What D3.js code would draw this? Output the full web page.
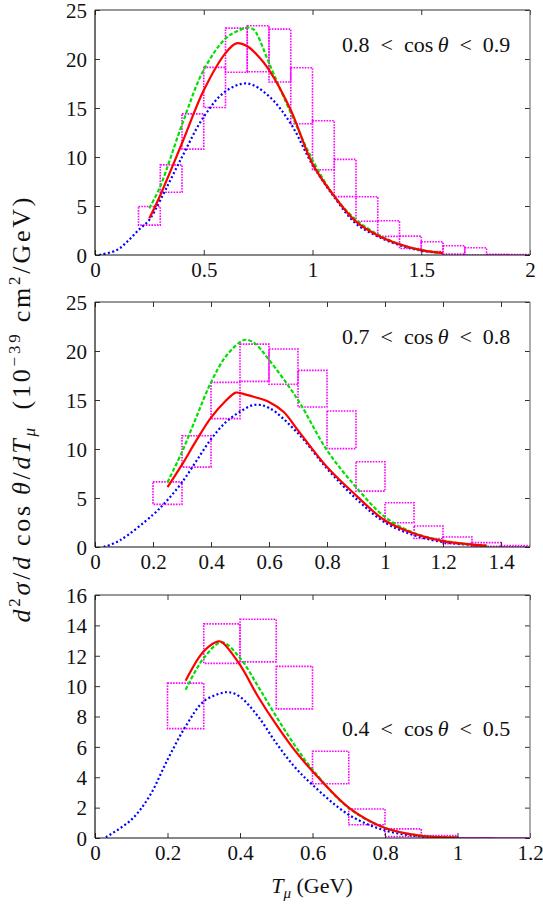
<!DOCTYPE html>
<html>
<head>
<meta charset="utf-8">
<script src="https://cdn.jsdelivr.net/npm/d3@7"></script>
<style>
  html, body { margin: 0; padding: 0; background: #fff; }
  svg { display: block; }
  text { font-family: "Liberation Serif", "Times New Roman", "DejaVu Serif", serif; fill: #111; }
</style>
</head>
<body>
<svg id="chart" width="543" height="907"></svg>
<script>
// ---------------- DATA ----------------
// Panel 1: 0.8 < cos(theta) < 0.9
const p1BinLo  = [0.2,0.3,0.4,0.5,0.6,0.7,0.8,0.9,1.0,1.1,1.2,1.3,1.4,1.5,1.6,1.7,1.8,1.9];
const p1BinHi  = [0.3,0.4,0.5,0.6,0.7,0.8,0.9,1.0,1.1,1.2,1.3,1.4,1.5,1.6,1.7,1.8,1.9,2.0];
const p1Data   = [4.0,7.8,12.6,17.1,20.9,21.05,20.35,16.25,11.2,7.86,4.7,2.7,1.3,0.85,0.52,0.37,0.04,0.02];
const p1Err    = [0.95,1.4,1.8,2.05,2.25,2.35,2.7,2.85,2.5,1.9,1.25,0.8,0.63,0.5,0.43,0.37,0.04,0.02];
const p1RedT   = [0.25,0.3,0.4,0.5,0.6,0.65,0.7,0.75,0.8,0.9,1.0,1.1,1.2,1.3,1.4,1.5,1.6];
const p1RedV   = [3.74,6.1,11.4,16.8,20.6,21.6,21.3,20.3,18.9,14.8,9.3,6.0,3.4,2.0,1.1,0.5,0.2];
const p1GreenT = [0.25,0.3,0.4,0.5,0.6,0.65,0.7,0.73,0.75,0.8,0.9,1.0,1.1,1.2,1.3,1.4,1.5,1.6];
const p1GreenV = [4.76,7.0,13.3,18.9,22.1,22.8,23.2,23.0,22.3,19.6,14.5,9.7,6.0,3.6,2.1,1.1,0.5,0.2];
const p1BlueT  = [0.02,0.1,0.15,0.2,0.25,0.3,0.4,0.5,0.6,0.7,0.8,0.9,1.0,1.1,1.2,1.3,1.4,1.5,1.6];
const p1BlueV  = [0.0,0.5,1.4,2.55,3.6,5.6,10.0,14.1,16.7,17.5,16.2,13.4,9.2,5.9,3.2,1.9,1.0,0.45,0.2];

// Panel 2: 0.7 < cos(theta) < 0.8
const p2BinLo  = [0.2,0.3,0.4,0.5,0.6,0.7,0.8,0.9,1.0,1.1,1.2,1.3,1.4];
const p2BinHi  = [0.3,0.4,0.5,0.6,0.7,0.8,0.9,1.0,1.1,1.2,1.3,1.4,1.5];
const p2Data   = [5.5,9.75,14.95,18.8,18.4,16.15,11.96,7.2,3.5,1.5,0.68,0.26,0.08];
const p2Err    = [1.15,1.6,1.85,1.9,1.8,1.87,1.92,1.5,1.02,0.64,0.34,0.19,0.08];
const p2RedT   = [0.25,0.3,0.35,0.4,0.45,0.485,0.5,0.55,0.6,0.65,0.7,0.8,0.9,1.0,1.1,1.2,1.3,1.35];
const p2RedV   = [6.1,8.4,10.9,13.2,14.9,15.75,15.7,15.3,14.8,13.8,11.9,8.16,5.27,2.7,1.37,0.6,0.25,0.15];
const p2GreenT = [0.25,0.3,0.35,0.4,0.45,0.5,0.52,0.55,0.6,0.7,0.8,0.9,1.0,1.1,1.2,1.3,1.35];
const p2GreenV = [6.6,9.7,13.3,16.8,19.4,20.9,21.15,20.8,19.1,15.0,9.87,6.12,3.06,1.43,0.65,0.25,0.15];
const p2BlueT  = [0.03,0.086,0.2,0.25,0.3,0.35,0.4,0.45,0.5,0.55,0.6,0.7,0.8,0.9,1.0,1.1,1.2,1.3,1.35];
const p2BlueV  = [0.0,0.68,3.3,4.8,6.6,8.8,11.0,12.7,13.8,14.5,14.2,11.6,8.0,4.94,2.5,1.2,0.5,0.2,0.1];

// Panel 3: 0.4 < cos(theta) < 0.5
const p3BinLo  = [0.2,0.3,0.4,0.5,0.6,0.7,0.8,0.9,1.0,1.1];
const p3BinHi  = [0.3,0.4,0.5,0.6,0.7,0.8,0.9,1.0,1.1,1.2];
const p3Data   = [8.7,12.8,13.0,9.9,4.64,1.39,0.35,0.08,0.01,0.0];
const p3Err    = [1.5,1.3,1.4,1.4,1.07,0.52,0.25,0.08,0.01,0.0];
const p3RedT   = [0.25,0.3,0.34,0.35,0.4,0.45,0.5,0.55,0.6,0.7,0.8,0.9,1.0];
const p3RedV   = [10.35,12.3,12.95,12.9,11.4,9.3,7.46,5.8,4.4,2.0,0.66,0.15,0.03];
const p3GreenT = [0.25,0.3,0.35,0.4,0.45,0.5,0.55,0.6,0.7,0.8,0.9,1.0];
const p3GreenV = [9.76,11.85,12.88,11.85,9.98,8.0,6.14,4.5,1.97,0.66,0.15,0.03];
const p3BlueT  = [0.03,0.1,0.15,0.2,0.25,0.3,0.35,0.37,0.4,0.45,0.5,0.55,0.6,0.7,0.8,0.9,1.0];
const p3BlueV  = [0.05,1.2,2.74,5.15,7.35,9.0,9.55,9.6,9.3,8.0,6.25,4.7,3.5,1.53,0.5,0.1,0.02];

// Axis ticks and labels
const p1XTicks = [0,0.5,1,1.5,2];
const p2XTicks = [0,0.2,0.4,0.6,0.8,1,1.2,1.4];
const p3XTicks = [0,0.2,0.4,0.6,0.8,1,1.2];
const p1YTicks = [0,5,10,15,20,25];
const p2YTicks = [0,5,10,15,20,25];
const p3YTicks = [0,2,4,6,8,10,12,14,16];
const panelLabels = [["0.8", "0.9"], ["0.7", "0.8"], ["0.4", "0.5"]];

// ---------------- DRAW ----------------
const svg = d3.select("#chart");
const L = 95, R = 530;
const SERIF = "'Liberation Serif', 'Times New Roman', 'DejaVu Serif', serif";

const panels = [
  { top: 10,  bottom: 255, xMax: 2.0, yMax: 25, xt: p1XTicks, yt: p1YTicks,
    lo: p1BinLo, hi: p1BinHi, val: p1Data, err: p1Err,
    red: [p1RedT, p1RedV], green: [p1GreenT, p1GreenV], blue: [p1BlueT, p1BlueV],
    lab: panelLabels[0], labY: 52 },
  { top: 302, bottom: 547, xMax: 1.5, yMax: 25, xt: p2XTicks, yt: p2YTicks,
    lo: p2BinLo, hi: p2BinHi, val: p2Data, err: p2Err,
    red: [p2RedT, p2RedV], green: [p2GreenT, p2GreenV], blue: [p2BlueT, p2BlueV],
    lab: panelLabels[1], labY: 344 },
  { top: 595, bottom: 838, xMax: 1.2, yMax: 16, xt: p3XTicks, yt: p3YTicks,
    lo: p3BinLo, hi: p3BinHi, val: p3Data, err: p3Err,
    red: [p3RedT, p3RedV], green: [p3GreenT, p3GreenV], blue: [p3BlueT, p3BlueV],
    lab: panelLabels[2], labY: 736 }
];

const fmt = d => (d === 0 ? "0" : String(d));

panels.forEach((p, i) => {
  const x = d3.scaleLinear().domain([0, p.xMax]).range([L, R]);
  const y = d3.scaleLinear().domain([0, p.yMax]).range([p.bottom, p.top]);
  const g = svg.append("g");

  const clipId = "clip" + i;
  svg.append("clipPath").attr("id", clipId)
    .append("rect").attr("x", L).attr("y", p.top - 2).attr("width", R - L).attr("height", p.bottom - p.top + 2);

  // data boxes
  const boxes = g.append("g").attr("clip-path", `url(#${clipId})`);
  p.lo.forEach((lo, k) => {
    const y0 = y(p.val[k] + p.err[k]);
    const y1 = y(Math.max(0, p.val[k] - p.err[k]));
    boxes.append("rect")
      .attr("x", x(lo)).attr("width", x(p.hi[k]) - x(lo))
      .attr("y", y0).attr("height", Math.max(0.01, y1 - y0))
      .attr("fill", "none").attr("stroke", "#ff00ff")
      .attr("stroke-width", 1.6).attr("stroke-dasharray", "1.6,1.2");
  });

  const line = d3.line().x(d => x(d[0])).y(d => y(d[1])).curve(d3.curveCatmullRom.alpha(0.5));
  const zip = (a, b) => a.map((t, k) => [t, b[k]]);
  const curves = g.append("g").attr("clip-path", `url(#${clipId})`);
  curves.append("path").attr("d", line(zip(p.blue[0], p.blue[1])))
    .attr("fill", "none").attr("stroke", "#0000ff").attr("stroke-width", 2.2)
    .attr("stroke-dasharray", "2,2.4");
  curves.append("path").attr("d", line(zip(p.green[0], p.green[1])))
    .attr("fill", "none").attr("stroke", "#00e000").attr("stroke-width", 2.2)
    .attr("stroke-dasharray", "4,2");
  curves.append("path").attr("d", line(zip(p.red[0], p.red[1])))
    .attr("fill", "none").attr("stroke", "#ff0000").attr("stroke-width", 2.2);

  // axes
  const ax = g.append("g").attr("transform", `translate(0,${p.bottom})`)
    .call(d3.axisBottom(x).tickValues(p.xt).tickFormat(fmt).tickSizeInner(-5).tickSizeOuter(0).tickPadding(7));
  const axT = g.append("g").attr("transform", `translate(0,${p.top})`)
    .call(d3.axisTop(x).tickValues(p.xt).tickFormat("").tickSizeInner(-5).tickSizeOuter(0));
  const ay = g.append("g").attr("transform", `translate(${L},0)`)
    .call(d3.axisLeft(y).tickValues(p.yt).tickFormat(fmt).tickSizeInner(-5).tickSizeOuter(0).tickPadding(8));
  const ayR = g.append("g").attr("transform", `translate(${R},0)`)
    .call(d3.axisRight(y).tickValues(p.yt).tickFormat("").tickSizeInner(-5).tickSizeOuter(0));

  [ax, axT, ay, ayR].forEach(a => {
    a.attr("font-family", SERIF);
    a.select(".domain").remove();
    a.selectAll("line").attr("stroke", "#333").attr("stroke-width", 1);
    a.selectAll("text").style("font-family", SERIF).attr("font-size", 21).attr("fill", "#111");
  });
  ax.selectAll("text").attr("dy", "0.72em");
  ay.selectAll("text").attr("dy", "0.35em");

  // frame
  g.append("line").attr("x1", L).attr("x2", R).attr("y1", p.bottom).attr("y2", p.bottom).attr("stroke", "#111").attr("stroke-width", 1.2);
  g.append("line").attr("x1", L).attr("x2", L).attr("y1", p.top).attr("y2", p.bottom).attr("stroke", "#111").attr("stroke-width", 1.2);
  g.append("line").attr("x1", L).attr("x2", R).attr("y1", p.top).attr("y2", p.top).attr("stroke", "#333").attr("stroke-width", 1.2);
  g.append("line").attr("x1", R).attr("x2", R).attr("y1", p.top).attr("y2", p.bottom).attr("stroke", "#777").attr("stroke-width", 1.2);

  // panel label (wider spaces around the relation signs, as in math typesetting)
  const t = g.append("text").attr("x", 342).attr("y", p.labY).attr("font-size", 22)
    .style("font-family", SERIF);
  t.append("tspan").text(p.lab[0] + "\u2002<\u2002cos\u2009");
  t.append("tspan").attr("font-style", "italic").text("θ");
  t.append("tspan").text("\u2002<\u2002" + p.lab[1]);
});

// x-axis title
const xt = svg.append("text").attr("x", 312).attr("y", 893).attr("text-anchor", "middle")
  .attr("font-size", 22).style("font-family", SERIF);
xt.append("tspan").attr("font-style", "italic").text("T");
xt.append("tspan").attr("font-style", "italic").attr("font-size", 15).attr("dy", 5).text("μ");
xt.append("tspan").attr("dy", -5).text(" (GeV)");

// y-axis title
const yt = svg.append("text").attr("transform", "translate(30,410) rotate(-90)")
  .attr("text-anchor", "middle").attr("font-size", 26).style("font-family", SERIF)
  .attr("textLength", 425).attr("lengthAdjust", "spacing");
yt.append("tspan").attr("font-style", "italic").text("d");
yt.append("tspan").attr("font-size", 17).attr("dy", -10).text("2");
yt.append("tspan").attr("font-style", "italic").attr("dy", 10).text("σ");
yt.append("tspan").text("/");
yt.append("tspan").attr("font-style", "italic").text("d");
yt.append("tspan").text("\u2009cos\u2009");
yt.append("tspan").attr("font-style", "italic").text("θ");
yt.append("tspan").text("/");
yt.append("tspan").attr("font-style", "italic").text("dT");
yt.append("tspan").attr("font-style", "italic").attr("font-size", 17).attr("dy", 5).text("μ");
yt.append("tspan").attr("dy", -5).text("\u2002(10");
yt.append("tspan").attr("font-size", 17).attr("dy", -10).text("−39");
yt.append("tspan").attr("dy", 10).text(" cm");
yt.append("tspan").attr("font-size", 17).attr("dy", -10).text("2");
yt.append("tspan").attr("dy", 10).text("/GeV)");
</script>
</body>
</html>
